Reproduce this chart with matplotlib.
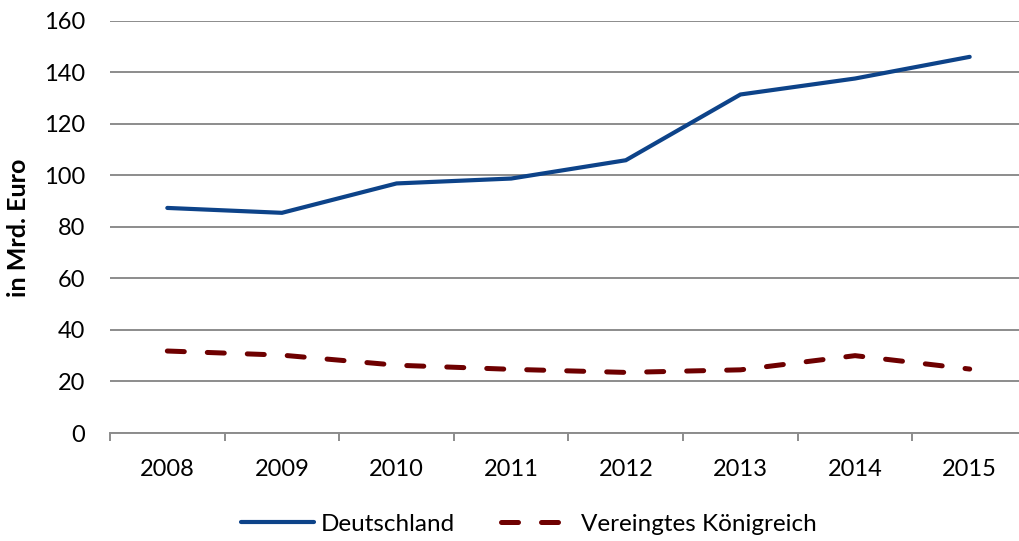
import matplotlib
matplotlib.use("Agg")
import matplotlib.pyplot as plt
from matplotlib.lines import Line2D
import numpy as np

years = ["2008", "2009", "2010", "2011", "2012", "2013", "2014", "2015"]
deutschland = [87.3, 85.4, 96.8, 98.7, 105.8, 131.3, 137.5, 145.9]
vereinigtes_koenigreich = [31.8, 30.2, 26.3, 24.7, 23.5, 24.5, 30.0, 24.8]
y_ticks = [0, 20, 40, 60, 80, 100, 120, 140, 160]

plt.rcParams['font.family'] = ['Lato', 'DejaVu Sans']

W, H = 1020, 541
fig = plt.figure(figsize=(W / 100, H / 100), dpi=100)
ax = fig.add_axes([110 / W, 108 / H, (1027 - 110) / W, (433 - 20.5) / H])

x = np.arange(len(years))
blue = '#0D4389'
red = '#6E0000'
grid_c = '#8C8C8C'

ax.plot(x, deutschland, color=blue, lw=3.0, solid_capstyle='round', solid_joinstyle='miter',
        label='Deutschland', zorder=3)
ax.plot(x, vereinigtes_koenigreich, color=red, lw=3.6, dashes=(3.4, 4.6),
        dash_capstyle='round', label='Vereingtes Königreich', zorder=3)

ax.set_xlim(-0.5, len(years) - 0.5)
ax.set_ylim(0, 160)
ax.set_yticks(y_ticks)
ax.yaxis.grid(True, color=grid_c, lw=1.4)
ax.set_axisbelow(True)

for s in ['top', 'right', 'left']:
    ax.spines[s].set_visible(False)
ax.spines['bottom'].set_color(grid_c)
ax.spines['bottom'].set_linewidth(1.4)

ax.set_xticks(x)
ax.set_xticklabels(years)
ax.set_xticks(np.arange(-0.5, len(years) - 0.5, 1.0), minor=True)
ax.tick_params(axis='x', which='major', length=0, pad=19, labelsize=17, colors='black')
ax.tick_params(axis='x', which='minor', length=5.5, width=1.4, color=grid_c, direction='out')
ax.tick_params(axis='y', length=0, pad=18, labelsize=17, colors='black')

fig.text(19 / W, 1 - 228 / H, 'in Mrd. Euro', rotation=90, fontsize=18, fontweight='bold',
         ha='center', va='center')

handles = [Line2D([], [], color=blue, lw=3.0, solid_capstyle='round'),
           Line2D([], [], color=red, lw=3.6, dashes=(3.4, 4.6), dash_capstyle='round')]
fig.legend(handles, ['Deutschland', 'Vereingtes Königreich'], loc='center',
           bbox_to_anchor=(529 / W, 1 - 524 / H), ncol=2, frameon=False, fontsize=17.5,
           handlelength=3.0, handletextpad=0.3, columnspacing=1.9)

fig.savefig('out.png', dpi=100)
